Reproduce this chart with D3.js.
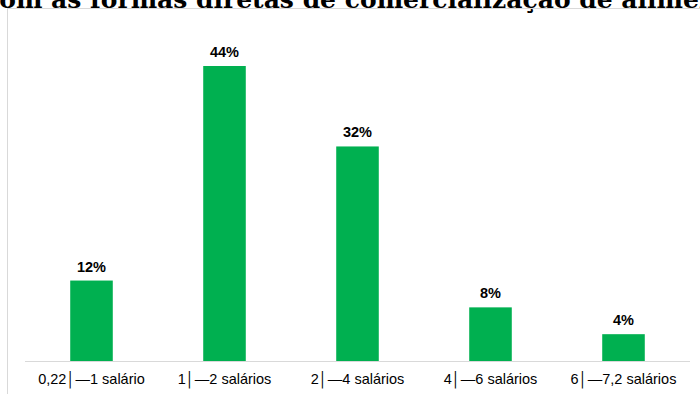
<!DOCTYPE html>
<html>
    <head>
        <meta charset="UTF-8">
        <script src="https://d3js.org/d3.v7.min.js"></script>
        <style>
            body { margin: 0; background: #fff; }
        </style>
    </head>

    <body>

        <svg id="canvas"></svg>

        <script>

            width = 700;
            height = 394;

            categories = ["0,22\u2502\u20141 salário", "1\u2502\u20142 salários", "2\u2502\u20144 salários", "4\u2502\u20146 salários", "6\u2502\u20147,2 salários"];
            values = [12, 44, 32, 8, 4];
            valueLabels = ["12%", "44%", "32%", "8%", "4%"];
            title = "com as formas diretas de comercialização de alimentos";

            canvas = d3.select("#canvas")
                .attr("width", width)
                .attr("height", height);

            // partial title of the document, cut by the top edge
            canvas.append("text")
                .attr("x", -16).attr("y", 8)
                .attr("style", "font-family:'DejaVu Serif'; font-weight:bold; font-size:25px; fill:#000;")
                .text(title);

            // chart frame
            canvas.append("rect")
                .attr("x", 7.5).attr("y", 8.5)
                .attr("width", 720).attr("height", 400)
                .attr("style", "fill:none; stroke:#d9d9d9;");

            xscale = d3.scaleBand()
                .domain(categories)
                .range([25, 690])
                .paddingInner(0.68)
                .paddingOuter(0.34);

            yscale = d3.scaleLinear()
                .domain([0, 44])
                .range([361, 66]);

            canvas.selectAll(".bar")
                .data(values)
                .enter().append("rect")
                .attr("class", "bar")
                .attr("x", (d,i) => xscale(categories[i]))
                .attr("y", d => yscale(d))
                .attr("width", xscale.bandwidth())
                .attr("height", d => yscale(0) - yscale(d))
                .attr("fill", "#00b050");

            canvas.selectAll(".val")
                .data(values)
                .enter().append("text")
                .attr("class", "val")
                .attr("x", (d,i) => xscale(categories[i]) + xscale.bandwidth()/2)
                .attr("y", d => yscale(d) - 9)
                .attr("text-anchor", "middle")
                .attr("style", "font-family:'Liberation Sans'; font-weight:bold; font-size:14.5px; fill:#000;")
                .text((d,i) => valueLabels[i]);

            xaxis = canvas.append("g")
                .attr("transform", "translate(0," + yscale(0) + ")")
                .call(d3.axisBottom(xscale).tickSize(0).tickPadding(13));

            xaxis.select(".domain")
                .attr("stroke", "#d9d9d9")
                .attr("d", "M25,0.5H690");

            xaxis.selectAll("text")
                .attr("style", "font-family:'Liberation Sans'; font-size:14.5px; fill:#000;");

        </script>

    </body>

</html>
